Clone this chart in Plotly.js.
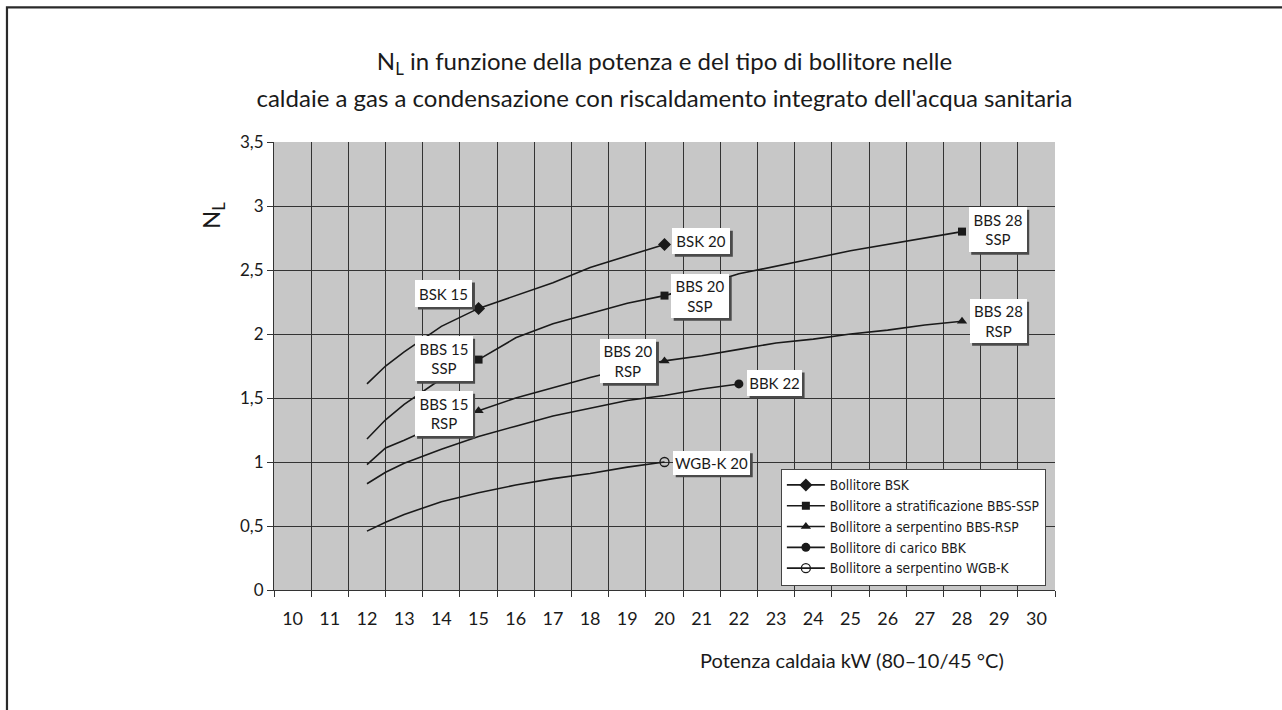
<!DOCTYPE html>
<html>
<head>
<meta charset="utf-8">
<script src="https://cdn.plot.ly/plotly-3.0.1.min.js"></script>
<style>
html,body{margin:0;padding:0;background:#fff;}
#chart{width:1282px;height:710px;}
</style>
</head>
<body>
<div id="chart"></div>
<script>
// ---- data ----
const xTicks = [10,11,12,13,14,15,16,17,18,19,20,21,22,23,24,25,26,27,28,29,30];
const yTicks = [0,0.5,1,1.5,2,2.5,3,3.5];

const seriesNames = [
  'Bollitore BSK',
  'Bollitore a stratificazione BBS-SSP',
  'Bollitore a serpentino BBS-RSP',
  'Bollitore di carico BBK',
  'Bollitore a serpentino WGB-K'
];

const bskX = [12,12.5,13,14,15,16,17,18,19,20];
const bskY = [1.61,1.75,1.86,2.06,2.20,2.30,2.40,2.52,2.61,2.70];
const bskMarkX = [15,20];

const sspX = [12,12.5,13,14,15,16,17,18,19,20,21,22,23,24,25,26,27,28];
const sspY = [1.18,1.33,1.45,1.65,1.80,1.97,2.08,2.16,2.24,2.30,2.38,2.47,2.53,2.59,2.65,2.70,2.75,2.80];
const sspMarkX = [15,20,28];

const rspX = [12,12.5,13,14,15,16,17,18,19,20,21,22,23,24,25,26,27,28];
const rspY = [0.98,1.11,1.17,1.30,1.40,1.50,1.58,1.66,1.73,1.79,1.83,1.88,1.93,1.96,2.00,2.03,2.07,2.10];
const rspMarkX = [15,20,28];

const bbkX = [12,12.5,13,14,15,16,17,18,19,20,21,22];
const bbkY = [0.83,0.92,0.99,1.10,1.20,1.28,1.36,1.42,1.48,1.52,1.57,1.61];
const bbkMarkX = [22];

const wgbX = [12,12.5,13,14,15,16,17,18,19,20];
const wgbY = [0.46,0.53,0.59,0.69,0.76,0.82,0.87,0.91,0.96,1.00];
const wgbMarkX = [20];

const pointLabels = ['BSK 15','BBS 15<br>SSP','BBS 15<br>RSP','BSK 20','BBS 20<br>SSP','BBS 20<br>RSP','BBS 28<br>SSP','BBS 28<br>RSP','BBK 22','WGB-K 20'];

// ---- styling / layout ----
const INK = '#1a1a1a';
const FONT = 'Lato, "Open Sans", sans-serif';
const NARROW = '"Liberation Sans Narrow", "DejaVu Sans Condensed", Lato, sans-serif';

function makeTrace(name, xs, ys, markX, symbol, size) {
  // reversed so that the first point (used by the legend) carries the marker
  const rx = xs.slice().reverse();
  const ry = ys.slice().reverse();
  const cols = rx.map(x => markX.includes(x) ? INK : 'rgba(0,0,0,0)');
  const open = symbol.indexOf('open') >= 0;
  return {
    type: 'scatter', mode: 'lines+markers', name: name,
    x: rx, y: ry,
    line: {color: INK, width: 1.6},
    marker: {symbol: symbol, size: size, color: cols,
             line: {width: open ? 1.3 : 0, color: cols}},
    hoverinfo: 'x+y+name'
  };
}

const traces = [
  makeTrace(seriesNames[0], bskX, bskY, bskMarkX, 'diamond', 10),
  makeTrace(seriesNames[1], sspX, sspY, sspMarkX, 'square', 8),
  makeTrace(seriesNames[2], rspX, rspY, rspMarkX, 'triangle-up', 9),
  makeTrace(seriesNames[3], bbkX, bbkY, bbkMarkX, 'circle', 9),
  makeTrace(seriesNames[4], wgbX, wgbY, wgbMarkX, 'circle-open', 9)
];

// label box placement (centre in data units, size in px)
const labelBoxes = [
  {x:14.07, y:2.316, w:57, h:27},
  {x:14.06, y:1.806, w:58, h:45},
  {x:14.06, y:1.377, w:58, h:45},
  {x:20.99, y:2.725, w:58, h:26},
  {x:20.96, y:2.294, w:58, h:44},
  {x:19.03, y:1.787, w:56, h:44},
  {x:28.96, y:2.814, w:58, h:45},
  {x:28.97, y:2.099, w:57, h:44},
  {x:22.96, y:1.617, w:55, h:26},
  {x:21.27, y:0.994, w:77, h:24}
];

const annotations = [];
const shapes = [{
  type: 'rect', xref: 'paper', yref: 'paper',
  x0: -0.3419, x1: 1.6, y0: -0.6, y1: 1.3007,
  line: {color: '#2a2a2a', width: 2.2}, fillcolor: 'rgba(0,0,0,0)', layer: 'below'
}];
pointLabels.forEach((t, i) => {
  const b = labelBoxes[i];
  // drop shadow of the label box
  shapes.push({type:'rect', xref:'x', yref:'y', layer:'above',
    xsizemode:'pixel', ysizemode:'pixel', xanchor:b.x, yanchor:b.y,
    x0:-b.w/2 + 2.5, x1:b.w/2 + 2.5, y0:-b.h/2 - 2.5, y1:b.h/2 - 2.5,
    fillcolor:'#4a4a4a', line:{width:0}});
  annotations.push({x:b.x, y:b.y, xref:'x', yref:'y', text:t, showarrow:false,
    xanchor:'center', yanchor:'middle',
    width:b.w, height:b.h, borderpad:0, borderwidth:0, bgcolor:'#ffffff',
    font:{family:FONT, size:15, color:INK}});
});
annotations.push({xref:'paper', yref:'paper', x:-0.078, y:0.835, text:'N<sub>L</sub>',
  xanchor:'center', yanchor:'middle',
  textangle:-90, showarrow:false, font:{family:FONT, size:24, color:INK}});
annotations.push({xref:'paper', yref:'paper', x:0.740, y:-0.156, text:'Potenza caldaia kW (80–10/45 °C)',
  xanchor:'center', yanchor:'middle',
  showarrow:false, font:{family:FONT, size:20, color:INK}});

const layout = {
  width: 1282, height: 710,
  margin: {l:274, r:227, t:142, b:120, pad:0},
  paper_bgcolor: '#ffffff',
  plot_bgcolor: '#c7c7c7',
  separators: ', ',
  font: {family: FONT, color: INK},
  title: {
    text: '<span style="font-size:24px">N<sub>L</sub> in funzione della potenza e del tipo di bollitore nelle</span><br>' +
          '<span style="font-size:24px">caldaie a gas a condensazione con riscaldamento integrato dell\'acqua sanitaria</span>',
    font: {family: FONT, size: 28, color: INK},
    x: 0.5, xref: 'paper', xanchor: 'center',
    y: 0.901, yref: 'container', yanchor: 'middle'
  },
  xaxis: {
    range: [9.5, 30.5], tickmode: 'array', tickvals: xTicks, ticktext: xTicks.map(String),
    showgrid: false, ticks: '', zeroline: false,
    showline: true, linecolor: '#333', linewidth: 1,
    ticklabelstandoff: 12,
    tickfont: {family: FONT, size: 18, color: INK},
    minor: {tickmode: 'linear', tick0: 9.5, dtick: 1, showgrid: true, gridcolor: '#333', gridwidth: 1,
            ticks: 'outside', ticklen: 6, tickcolor: '#333', tickwidth: 1},
    fixedrange: true
  },
  yaxis: {
    range: [0, 3.5], tickmode: 'array', tickvals: yTicks,
    showgrid: true, gridcolor: '#333', gridwidth: 1, zeroline: false,
    ticks: 'outside', ticklen: 6, tickcolor: '#333',
    showline: true, linecolor: '#333', linewidth: 1,
    tickfont: {family: FONT, size: 17, color: INK},
    fixedrange: true
  },
  legend: {
    x: 0.649, y: 0.1406, xanchor: 'left', yanchor: 'middle',
    bgcolor: '#ffffff', bordercolor: '#444', borderwidth: 1,
    font: {family: NARROW, size: 13.7, color: INK},
    itemwidth: 38, tracegroupgap: 0
  },
  showlegend: true,
  annotations: annotations,
  shapes: shapes
};

Plotly.newPlot('chart', traces, layout, {displayModeBar: false, staticPlot: true});
</script>
</body>
</html>
